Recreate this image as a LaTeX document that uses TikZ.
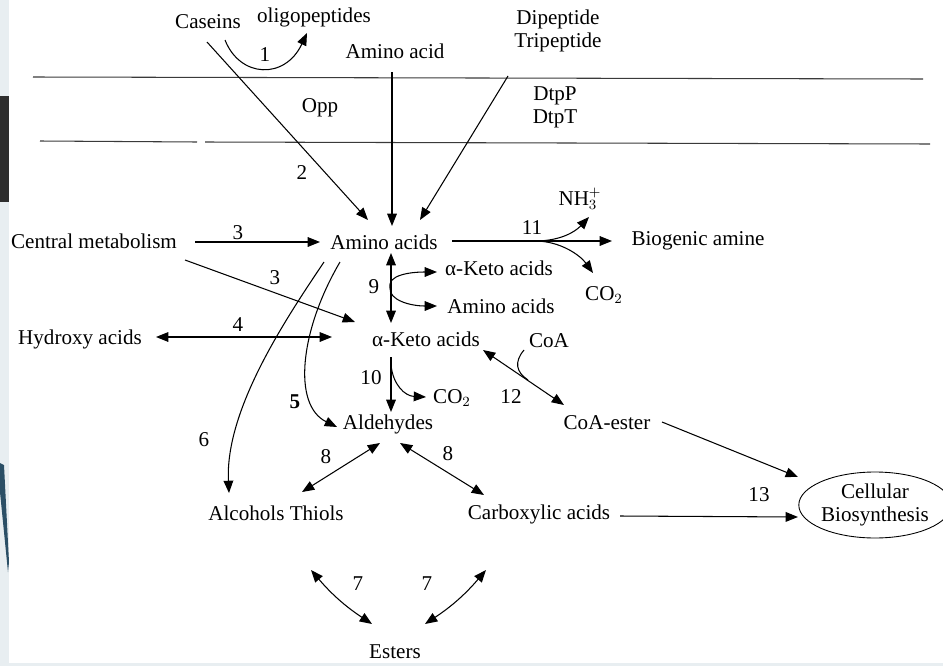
\documentclass[tikz,border=0pt]{standalone}
\usepackage{fontspec}
\setmainfont{Liberation Serif}
\usetikzlibrary{arrows.meta,shapes.geometric}

\definecolor{edgelight}{HTML}{E8EEF1}
\definecolor{edgedark}{HTML}{2E2E2E}
\definecolor{edgeblue}{HTML}{2B4F66}
\definecolor{membrane}{HTML}{3A3A3A}

\tikzset{
  cmpd/.style={inner sep=1pt, font=\fontsize{12}{13}\selectfont, align=center},
  num/.style={inner sep=0pt, font=\fontsize{12}{13}\selectfont},
  fwd/.style={line width=0.6pt, -{Triangle[length=7pt,width=5.5pt]}},
  both/.style={line width=0.6pt, {Triangle[length=7pt,width=5.5pt]}-{Triangle[length=7pt,width=5.5pt]}},
  mem/.style={line width=0.6pt, membrane},
}

\begin{document}
\begin{tikzpicture}[x=0.02cm, y=-0.02cm]
\useasboundingbox (0,0) rectangle (943,666);

% page edge left over from the screenshot
\fill[edgelight] (0,0) rectangle (9,666);
\fill[edgelight] (0,663) rectangle (943,666);
\fill[edgedark] (0,96) rectangle (9,202);
\fill[edgeblue] (0,463) -- (4,465) -- (9,562) -- (8,572) -- (0,492) -- cycle;

% membrane
\draw[mem] (33,77) -- (923,79);
\draw[mem] (40,141) -- (197,142);
\draw[mem] (205,142) -- (930,144);

% compounds
\node[cmpd] (cas)  at (208,22)  {Caseins};
\node[cmpd] (oli)  at (314,17)  {oligopeptides};
\node[cmpd] (aat)  at (395,51)  {Amino acid};
\node[cmpd] (dip)  at (558,31)  {Dipeptide\\Tripeptide};
\node[cmpd] (opp)  at (320,108) {Opp};
\node[cmpd] (dtp)  at (555,107) {DtpP\\DtpT};
\node[cmpd] (cm)   at (94,241)  {Central metabolism};
\node[cmpd] (aa)   at (384,242) {Amino acids};
\node[cmpd] (nh3)  at (580,199) {NH$_3^+$};
\node[cmpd] (bio)  at (698,241) {Biogenic amine};
\node[cmpd] (co2a) at (604,295) {CO$_2$};
\node[cmpd] (ka2)  at (499,268) {α-Keto acids};
\node[cmpd] (aa2)  at (501,306) {Amino acids};
\node[cmpd] (ha)   at (80,339)  {Hydroxy acids};
\node[cmpd] (ka)   at (426,339) {α-Keto acids};
\node[cmpd] (coa)  at (549,341) {CoA};
\node[cmpd] (co2b) at (452,398) {CO$_2$};
\node[cmpd] (ald)  at (388,424) {Aldehydes};
\node[cmpd] (ce)   at (607,423) {CoA-ester};
\node[cmpd] (alc)  at (276,513) {Alcohols Thiols};
\node[cmpd] (ca)   at (539,514) {Carboxylic acids};
\node[cmpd] (es)   at (395,652) {Esters};
\node[cmpd, ellipse, draw, line width=0.5pt, minimum width=2.72cm,
      minimum height=1.32cm, inner sep=0pt] (cb) at (875,505) {Cellular\\Biosynthesis};

% branch points
\coordinate (f11) at (535,241);
\coordinate (f9)  at (390,288);
\coordinate (f10) at (391,365);
\coordinate (j12) at (528,380);

% transport
\draw[fwd] ([shift={(17,18)}]cas.center) .. controls (240,78) and (285,80) .. ([shift={(-7,16)}]oli.center);
\draw[fwd] ([shift={(-1,20)}]cas.center) -- ([shift={(-16,-22)}]aa.center);
\draw[fwd] ([shift={(-3,21)}]aat.center) -- ([shift={(8,-16)}]aa.center);
\draw[fwd] ([shift={(-50,45)}]dip.center) -- ([shift={(36,-22)}]aa.center);

% reactions
\draw[fwd] ([shift={(101,1)}]cm.center) -- ([shift={(-64,0)}]aa.center);
\draw[fwd] ([shift={(91,19)}]cm.center) -- ([shift={(-71,-17)}]ka.center);
\draw[both] ([shift={(76,-2)}]ha.center) -- ([shift={(-94,-2)}]ka.center);
\draw[fwd] ([shift={(68,-1)}]aa.center) -- ([shift={(-86,0)}]bio.center);
\draw[fwd] (f11) .. controls (560,241) and (575,232) .. ([shift={(9,18)}]nh3.center);
\draw[fwd] (f11) .. controls (560,241) and (580,255) .. ([shift={(-11,-22)}]co2a.center);
\draw[both] ([shift={(7,11)}]aa.center) -- ([shift={(-35,-16)}]ka.center);
\draw[fwd] (f9) .. controls (387,275) and (410,272) .. ([shift={(-62,4)}]ka2.center);
\draw[fwd] (f9) .. controls (389,300) and (410,306) .. ([shift={(-64,0)}]aa2.center);
\draw[fwd] ([shift={(-35,18)}]ka.center) -- ([shift={(3,-12)}]ald.center);
\draw[fwd] (f10) .. controls (393,385) and (405,396) .. ([shift={(-26,-1)}]co2b.center);
\draw[both] ([shift={(57,11)}]ka.center) -- ([shift={(-43,-18)}]ce.center);
\draw[line width=0.6pt] ([shift={(-25,9)}]coa.center) .. controls (514,362) and (516,372) .. (j12);
\draw[fwd] ([shift={(-44,20)}]aa.center) .. controls (300,330) and (292,405) .. ([shift={(-51,3)}]ald.center);
\draw[fwd] ([shift={(-60,20)}]aa.center) .. controls (285,320) and (225,410) .. ([shift={(-47,-20)}]alc.center);
\draw[both] ([shift={(-8,19)}]ald.center) -- ([shift={(26,-21)}]alc.center);
\draw[both] ([shift={(12,19)}]ald.center) -- ([shift={(-55,-19)}]ca.center);
\draw[both] ([shift={(35,57)}]alc.center) to[bend right=8] ([shift={(-23,-28)}]es.center);
\draw[both] ([shift={(-53,56)}]ca.center) to[bend left=8] ([shift={(30,-28)}]es.center);
\draw[fwd] ([shift={(81,2)}]ca.center) -- ([shift={(-77,12)}]cb.center);
\draw[fwd] ([shift={(55,-1)}]ce.center) -- ([shift={(-77,-28)}]cb.center);

% step numbers
\node[num] (n1)  at (265,55)  {1};
\node[num] (n2)  at (302,173) {2};
\node[num] (n3a) at (238,233) {3};
\node[num] (n3b) at (275,278) {3};
\node[num] (n4)  at (238,325) {4};
\node[num, font=\fontsize{12}{13}\selectfont\bfseries] (n5) at (295,402) {5};
\node[num] (n6)  at (204,440) {6};
\node[num] (n7a) at (358,584) {7};
\node[num] (n7b) at (427,584) {7};
\node[num] (n8a) at (326,457) {8};
\node[num] (n8b) at (448,454) {8};
\node[num] (n9)  at (374,287) {9};
\node[num] (n10) at (371,378) {10};
\node[num] (n11) at (532,228) {11};
\node[num] (n12) at (511,397) {12};
\node[num] (n13) at (759,495) {13};
\end{tikzpicture}
\end{document}
